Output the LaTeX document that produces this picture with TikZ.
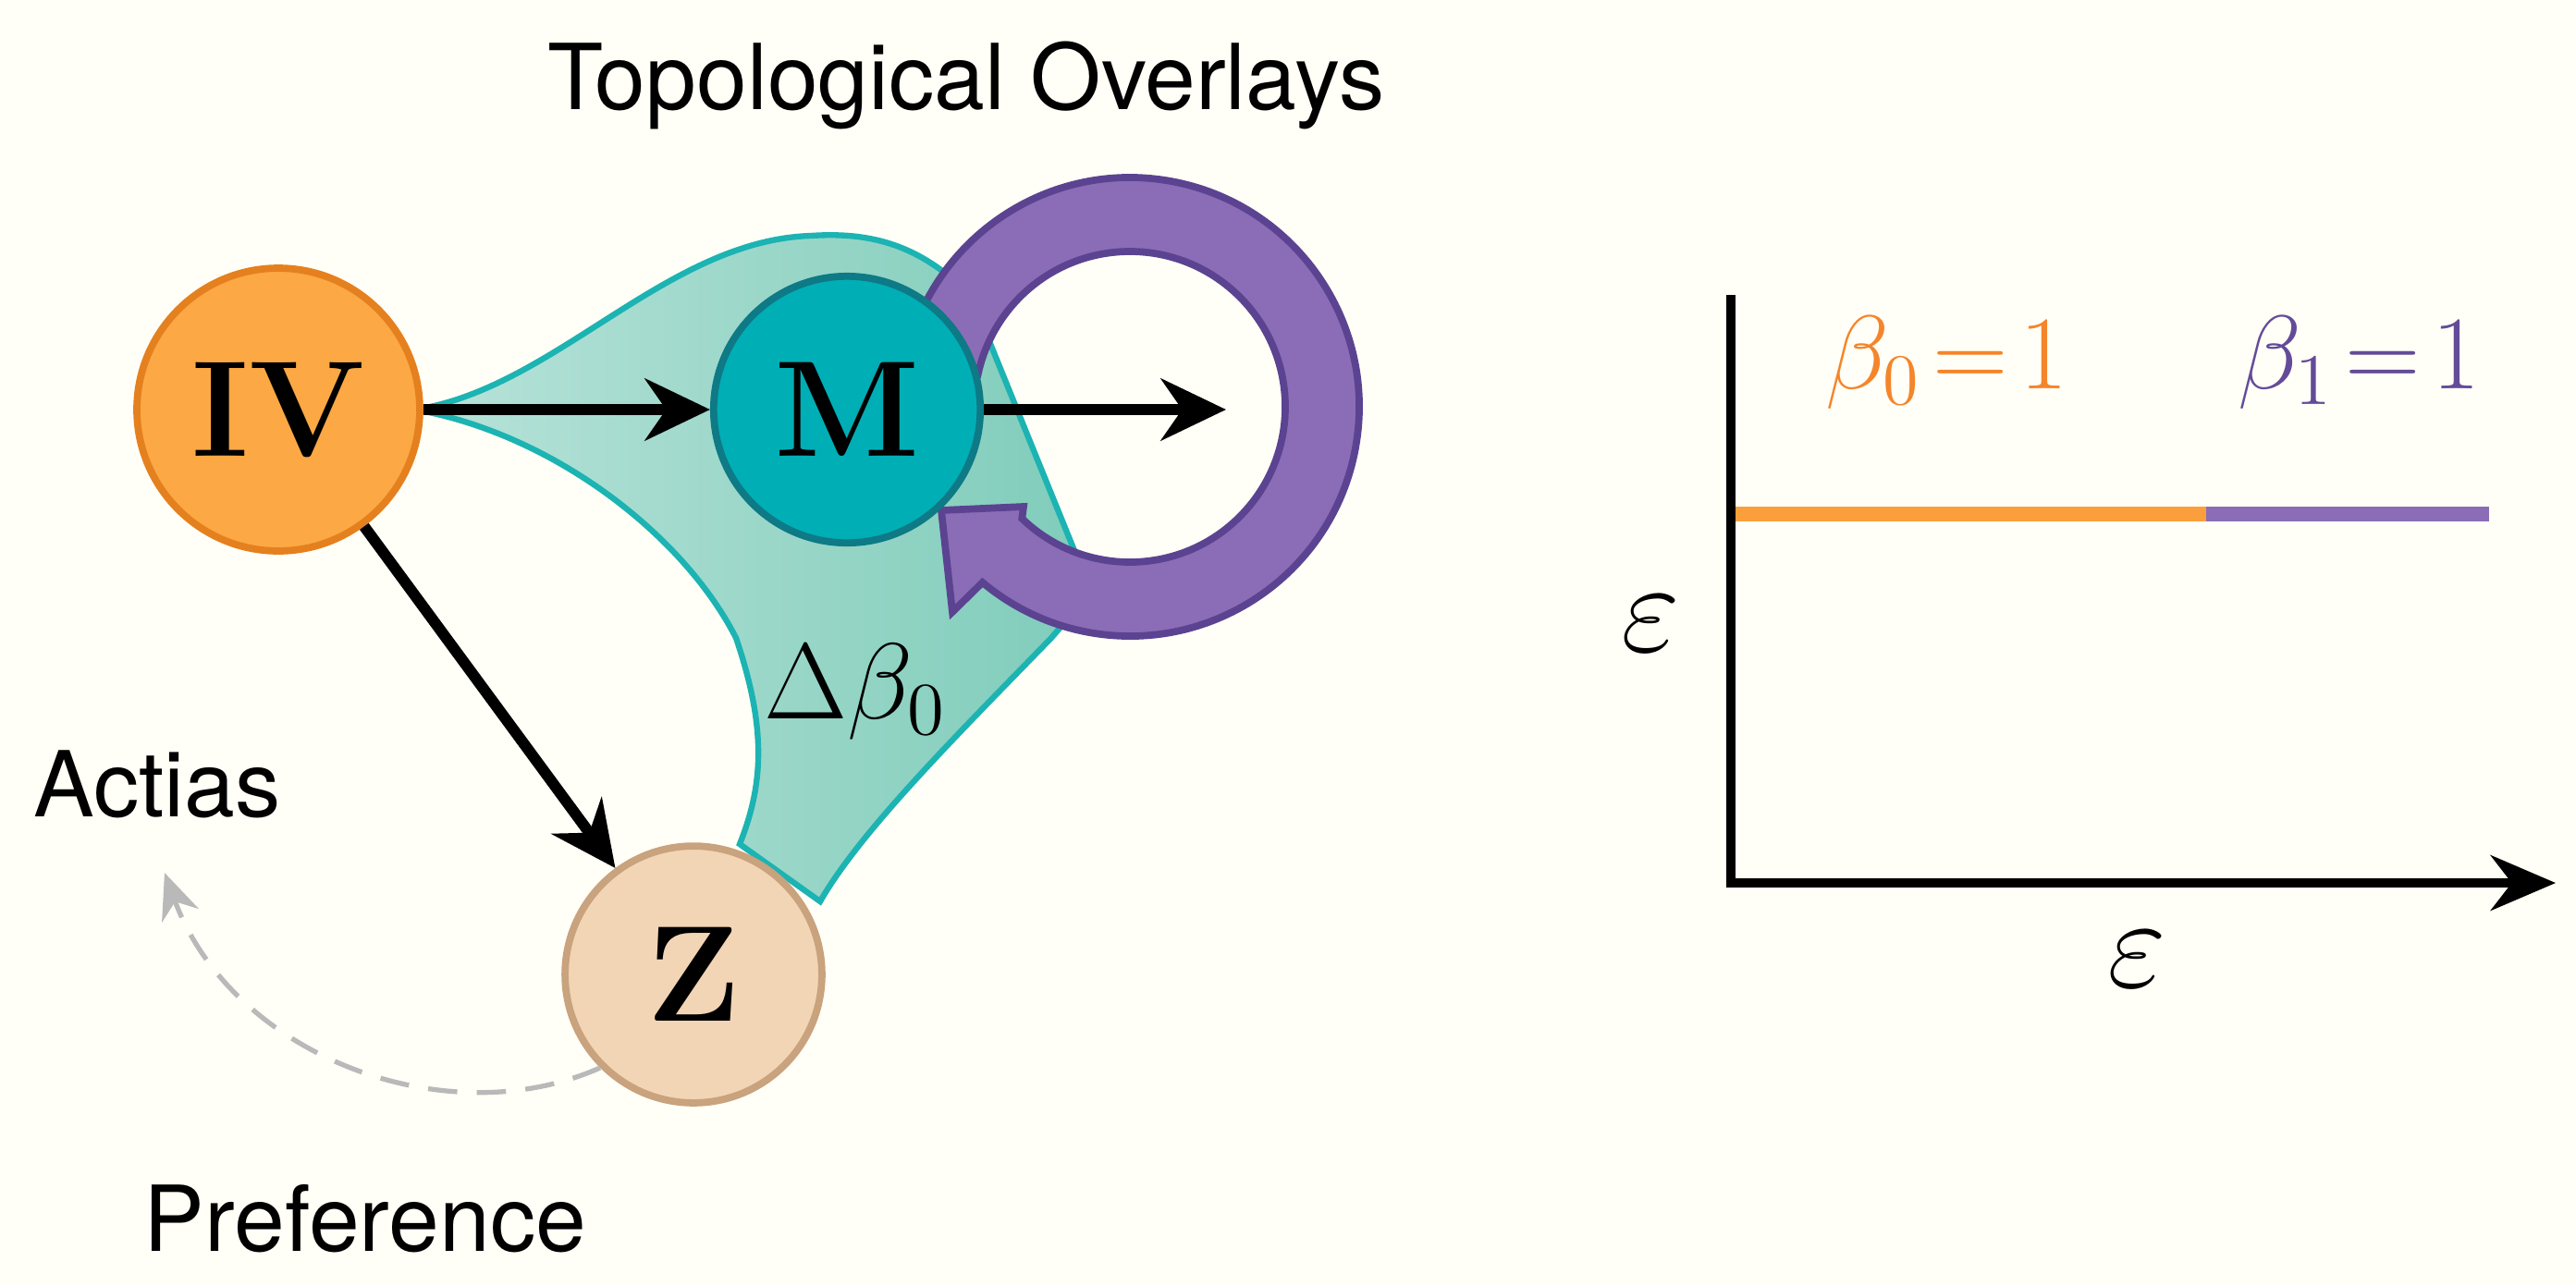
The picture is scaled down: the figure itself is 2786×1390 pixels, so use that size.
\documentclass[tikz,border=0pt]{standalone}
\usepackage{fontspec}
\newfontfamily\sansf{TeX Gyre Heros}
\usetikzlibrary{arrows.meta,calc}
\definecolor{orF}{HTML}{FBA845}\definecolor{orB}{HTML}{E5801E}
\definecolor{tlF}{HTML}{00AEB6}\definecolor{tlB}{HTML}{0D7A86}
\definecolor{zF}{HTML}{F2D5B5}\definecolor{zB}{HTML}{C9A27E}
\definecolor{puF}{HTML}{8A6DB6}\definecolor{puB}{HTML}{5B4391}
\definecolor{rgF}{HTML}{7FCCBA}\definecolor{rgB}{HTML}{1CB3B3}
\definecolor{orL}{HTML}{FB9F3C}\definecolor{orT}{HTML}{F5852A}
\begin{document}
\begin{tikzpicture}[x=0.01cm,y=-0.01cm,
  nd/.style={circle,inner sep=0pt,line width=2.2pt,font=\fontsize{42}{42}\selectfont\bfseries},
  ar/.style={line width=3.4pt,-{Stealth[length=20pt,width=19pt]}},
  lab/.style={font=\sansf\fontsize{28}{30}\selectfont},
  mth/.style={font=\fontsize{20}{20}\selectfont,scale=#1}]
\useasboundingbox (0,0) rectangle (2786,1390);
\fill[white!97!yellow] (0,0) rectangle (2786,1390);
% teal region
\draw[left color=rgF!55!white,right color=rgF,draw=rgB,line width=1.8pt] (449,443) .. controls (600,420) and (720,260) .. (877,255)
  .. controls (950,250) and (1000,270) .. (1050,320) -- (1180,640) -- (1137,690)
  .. controls (1030,800) and (930,900) .. (887,975) -- (800,913)
  .. controls (825,850) and (830,790) .. (796,690)
  .. controls (740,580) and (600,470) .. (449,443) -- cycle;
% purple ring
\draw[fill=puF,draw=puB,line width=2.2pt]
  ($(1222,440)+(-170:248)$) arc[start angle=-170,end angle=130,radius=248]
  -- (1030,662) -- (1018,552) -- (1107,548)
  -- ($(1222,440)+(134:168)$) arc[start angle=134,end angle=-168,radius=168] -- cycle;
\node[nd,fill=orF,draw=orB,minimum size=87pt] (IV) at (301,443) {IV};
\node[nd,fill=tlF,draw=tlB,minimum size=82pt] (M) at (916,443) {M};
\node[nd,fill=zF,draw=zB,minimum size=79pt] (Z) at (750,1054) {Z};
\coordinate (Mr) at (1326,443);
\draw[ar] (IV) -- (M);
\draw[ar] (M) -- (Mr);
\draw[ar] (IV) -- (Z);
\coordinate (tip) at (178,944);
\draw[gray!55,line width=1.5pt,dash pattern=on 9pt off 6pt,-{Stealth[length=14pt,width=12pt]}]
  (Z.225) .. controls (480,1230) and (250,1140) .. (tip);
\node[lab] (title) at (1045,92) {Topological Overlays};
\node[lab] (act) at (170,848) {Actias};
\node[lab] (pref) at (395,1318) {Preference};
\node[mth=1.6] (db) at (925,748) {$\Delta\beta_0$};
% right panel
\coordinate (O) at (1872,955);
\coordinate (Y) at (1872,319);
\coordinate (X) at (2764,955);
\coordinate (a) at (1872,556);\coordinate (b) at (2386,556);\coordinate (c) at (2692,556);
\draw[orL,line width=4.6pt] (a) -- (b);
\draw[puF,line width=4.6pt] (b) -- (c);
\draw[line width=2.6pt,-{Stealth[length=20pt,width=17pt]},line join=miter] (Y) -- (O) -- (X);
\node[mth=1.55,text=orT] (b0) at (2105,392) {$\beta_0\!=\!1$};
\node[mth=1.55,text=puB!80!puF] (b1) at (2551,392) {$\beta_1\!=\!1$};
\node[mth=1.9] (ey) at (1785,675) {$\varepsilon$};
\node[mth=1.9] (ex) at (2311,1038) {$\varepsilon$};
\end{tikzpicture}
\end{document}
